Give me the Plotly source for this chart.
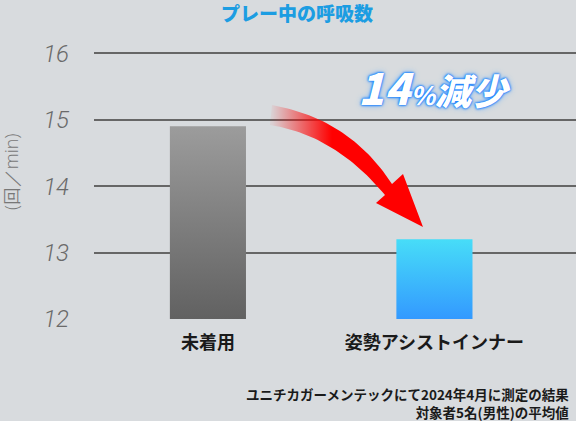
import plotly.graph_objects as go
import numpy as np

categories = ["未着用", "姿勢アシストインナー"]
values = [14.9, 13.2]
y_ticks = [12, 13, 14, 15, 16]
title = "プレー中の呼吸数"
y_title = "(回／min)"
callout_num = "14"
callout_pct = "%"
callout_word = "減少"
note_lines = ["ユニチカガーメンテックにて2024年4月に測定の結果",
              "対象者5名(男性)の平均値"]

# styles
bar_top = ["#9c9c9c", "#47ddf8"]
bar_bottom = ["#616161", "#3399ff"]
bg = "#d8dbde"
bar_half = 0.168
y_min, y_max = 12, 16.2
x_min, x_max = -0.503, 1.625
W, H = 576, 421
ml, mr, mt, mb = 94, 0, 40, 102
jp = "Noto Sans CJK JP"


def px_to_data(px, py):
    pw = W - ml - mr
    ph = H - mt - mb
    x = x_min + (np.asarray(px) - ml) / pw * (x_max - x_min)
    y = y_min + (H - mb - np.asarray(py)) / ph * (y_max - y_min)
    return x, y


fig = go.Figure()

# bars with vertical gradient
for i, (cat, v) in enumerate(zip(categories, values)):
    fig.add_trace(go.Scatter(
        x=[i - bar_half, i - bar_half, i + bar_half, i + bar_half, i - bar_half],
        y=[y_min, v, v, y_min, y_min],
        mode="lines", fill="toself", line=dict(width=0),
        fillgradient=dict(type="vertical", start=y_min, stop=v,
                          colorscale=[[0, bar_bottom[i]], [1, bar_top[i]]]),
        hoverinfo="skip", showlegend=False,
    ))

# curved red arrow (pixel geometry, converted to data)
t = np.linspace(0, 1, 40)
def bez(p0, p1, p2):
    return ((1 - t) ** 2 * p0[0] + 2 * (1 - t) * t * p1[0] + t ** 2 * p2[0],
            (1 - t) ** 2 * p0[1] + 2 * (1 - t) * t * p1[1] + t ** 2 * p2[1])

ox, oy = bez((272, 105), (350, 119), (392, 184))
ix, iy = bez((270, 125), (335, 135), (385, 195))
ax_px = list(ox) + [403, 423, 376] + list(ix[::-1]) + [ox[0]]
ay_px = list(oy) + [174, 227, 203] + list(iy[::-1]) + [oy[0]]
arx, ary = px_to_data(ax_px, ay_px)
gx0, _ = px_to_data(272, 0)
gx1, _ = px_to_data(332, 0)
fig.add_trace(go.Scatter(
    x=arx, y=ary, mode="lines", fill="toself", line=dict(width=0),
    fillgradient=dict(type="horizontal", start=float(gx0), stop=float(gx1),
                      colorscale=[[0, "rgba(255,0,0,0.05)"], [1, "rgba(255,0,0,1)"]]),
    hoverinfo="skip", showlegend=False,
))

callout = ("<i><span style='font-size:43px'>" + callout_num + "</span>"
           "<span style='font-size:25px'>" + callout_pct + "</span>"
           + callout_word + "</i>")

fig.update_layout(
    width=W, height=H,
    margin=dict(l=ml, r=mr, t=mt, b=mb),
    paper_bgcolor=bg, plot_bgcolor=bg,
    xaxis=dict(range=[x_min, x_max], tickvals=list(range(len(categories))),
               ticktext=categories, showgrid=False, zeroline=False,
               showline=False, ticks="", ticklabelstandoff=11,
               tickfont=dict(family=jp, size=18, color="#1a1a1a", weight="bold")),
    yaxis=dict(range=[y_min, y_max], tickvals=y_ticks, showgrid=True,
               gridcolor="#666666", gridwidth=2, zeroline=False, showline=False,
               ticks="", ticklabelstandoff=24,
               tickfont=dict(family="Roboto", size=24, color="#6a6a6a",
                             style="italic", weight=300)),
    annotations=[
        dict(text=title, xref="paper", yref="paper", x=0.421, y=1.10,
             xanchor="center", yanchor="middle", showarrow=False,
             font=dict(family=jp, size=19, color="#1c9de2", weight=900)),
        dict(text=y_title, xref="paper", yref="paper", x=-0.172, y=0.527,
             textangle=-90, xanchor="center", yanchor="middle", showarrow=False,
             font=dict(family="Open Sans", size=18, color="#777777", weight=300)),
        dict(text=callout, xref="paper", yref="paper", x=0.707, y=0.835,
             xanchor="center", yanchor="middle", showarrow=False,
             font=dict(family=jp, size=36, color="white", weight=900,
                       shadow="0 0 2px #1a7fff, 0 0 2px #1a7fff, 0 0 3px #1a7fff, 0 0 6px #6ab4ff")),
        dict(text="<br>".join(note_lines), xref="paper", yref="paper",
             x=0.9896, y=-0.301, xanchor="right", yanchor="middle",
             align="right", showarrow=False,
             font=dict(family=jp, size=13.5, color="#1a1a1a", weight="bold")),
    ],
)

fig.write_html("out.html", config={"displayModeBar": False},
               post_script="document.body.style.margin='0';document.body.style.overflow='hidden';")
